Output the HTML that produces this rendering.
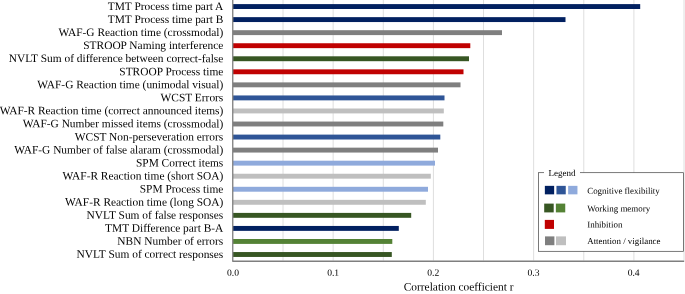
<!DOCTYPE html>
<html><head><meta charset="utf-8"><title>Correlation chart</title>
<style>
html,body{margin:0;padding:0;background:#fff;}
svg{display:block;font-family:"Liberation Serif",serif;text-rendering:geometricPrecision;}
text{fill:#000;}
</style></head><body>
<svg width="685" height="294" viewBox="0 0 685 294">
<rect width="685" height="294" fill="#ffffff"/>

<g style="will-change:opacity" opacity="0.999">
<line x1="283.02" y1="0" x2="283.02" y2="260.5" stroke="#DEDEDE" stroke-width="1"/>
<line x1="333.15" y1="0" x2="333.15" y2="260.5" stroke="#DEDEDE" stroke-width="1"/>
<line x1="383.27" y1="0" x2="383.27" y2="260.5" stroke="#DEDEDE" stroke-width="1"/>
<line x1="433.40" y1="0" x2="433.40" y2="260.5" stroke="#DEDEDE" stroke-width="1"/>
<line x1="483.52" y1="0" x2="483.52" y2="260.5" stroke="#DEDEDE" stroke-width="1"/>
<line x1="533.65" y1="0" x2="533.65" y2="260.5" stroke="#DEDEDE" stroke-width="1"/>
<line x1="583.77" y1="0" x2="583.77" y2="260.5" stroke="#DEDEDE" stroke-width="1"/>
<line x1="633.90" y1="0" x2="633.90" y2="260.5" stroke="#DEDEDE" stroke-width="1"/>
<line x1="684.02" y1="0" x2="684.02" y2="260.5" stroke="#DEDEDE" stroke-width="1"/>
<rect x="233.0" y="4.10" width="407.2" height="4.9" fill="#002060"/>
<rect x="233.0" y="17.15" width="332.5" height="4.9" fill="#002060"/>
<rect x="233.0" y="30.20" width="269.0" height="4.9" fill="#7F7F7F"/>
<rect x="233.0" y="43.25" width="237.3" height="4.9" fill="#C00000"/>
<rect x="233.0" y="56.30" width="236.0" height="4.9" fill="#375623"/>
<rect x="233.0" y="69.35" width="230.5" height="4.9" fill="#C00000"/>
<rect x="233.0" y="82.40" width="227.5" height="4.9" fill="#7F7F7F"/>
<rect x="233.0" y="95.45" width="211.5" height="4.9" fill="#2F5597"/>
<rect x="233.0" y="108.50" width="210.8" height="4.9" fill="#BFBFBF"/>
<rect x="233.0" y="121.55" width="210.3" height="4.9" fill="#7F7F7F"/>
<rect x="233.0" y="134.60" width="207.3" height="4.9" fill="#2F5597"/>
<rect x="233.0" y="147.65" width="205.0" height="4.9" fill="#7F7F7F"/>
<rect x="233.0" y="160.70" width="202.0" height="4.9" fill="#8FAADC"/>
<rect x="233.0" y="173.75" width="197.8" height="4.9" fill="#BFBFBF"/>
<rect x="233.0" y="186.80" width="195.0" height="4.9" fill="#8FAADC"/>
<rect x="233.0" y="199.85" width="192.8" height="4.9" fill="#BFBFBF"/>
<rect x="233.0" y="212.90" width="178.2" height="4.9" fill="#375623"/>
<rect x="233.0" y="225.95" width="165.8" height="4.9" fill="#002060"/>
<rect x="233.0" y="239.00" width="159.3" height="4.9" fill="#548235"/>
<rect x="233.0" y="252.05" width="158.8" height="4.9" fill="#375623"/>
<polyline points="232.75,0 232.75,261.25 684.2,261.25" fill="none" stroke="#7F7F7F" stroke-width="1.32" stroke-linejoin="round"/>
<text transform="matrix(1 0.0005 0 1 223.30 9.95)" font-size="11.4" text-anchor="end">TMT Process time part A</text>
<text transform="matrix(1 0.0005 0 1 223.30 23.00)" font-size="11.4" text-anchor="end">TMT Process time part B</text>
<text transform="matrix(1 0.0005 0 1 223.30 36.05)" font-size="11.4" text-anchor="end">WAF-G Reaction time (crossmodal)</text>
<text transform="matrix(1 0.0005 0 1 223.30 49.10)" font-size="11.4" text-anchor="end">STROOP Naming interference</text>
<text transform="matrix(1 0.0005 0 1 223.30 62.15)" font-size="11.4" text-anchor="end">NVLT Sum of difference between correct-false</text>
<text transform="matrix(1 0.0005 0 1 223.30 75.20)" font-size="11.4" text-anchor="end">STROOP Process time</text>
<text transform="matrix(1 0.0005 0 1 223.30 88.25)" font-size="11.4" text-anchor="end">WAF-G Reaction time (unimodal visual)</text>
<text transform="matrix(1 0.0005 0 1 223.30 101.30)" font-size="11.4" text-anchor="end">WCST Errors</text>
<text transform="matrix(1 0.0005 0 1 223.30 114.35)" font-size="11.4" text-anchor="end">WAF-R Reaction time (correct announced items)</text>
<text transform="matrix(1 0.0005 0 1 223.30 127.40)" font-size="11.4" text-anchor="end">WAF-G Number missed items (crossmodal)</text>
<text transform="matrix(1 0.0005 0 1 223.30 140.45)" font-size="11.4" text-anchor="end">WCST Non-perseveration errors</text>
<text transform="matrix(1 0.0005 0 1 223.30 153.50)" font-size="11.4" text-anchor="end">WAF-G Number of false alaram (crossmodal)</text>
<text transform="matrix(1 0.0005 0 1 223.30 166.55)" font-size="11.4" text-anchor="end">SPM Correct items</text>
<text transform="matrix(1 0.0005 0 1 223.30 179.60)" font-size="11.4" text-anchor="end">WAF-R Reaction time (short SOA)</text>
<text transform="matrix(1 0.0005 0 1 223.30 192.65)" font-size="11.4" text-anchor="end">SPM Process time</text>
<text transform="matrix(1 0.0005 0 1 223.30 205.70)" font-size="11.4" text-anchor="end">WAF-R Reaction time (long SOA)</text>
<text transform="matrix(1 0.0005 0 1 223.30 218.75)" font-size="11.4" text-anchor="end">NVLT Sum of false responses</text>
<text transform="matrix(1 0.0005 0 1 223.30 231.80)" font-size="11.4" text-anchor="end">TMT Difference part B-A</text>
<text transform="matrix(1 0.0005 0 1 223.30 244.85)" font-size="11.4" text-anchor="end">NBN Number of errors</text>
<text transform="matrix(1 0.0005 0 1 223.30 257.90)" font-size="11.4" text-anchor="end">NVLT Sum of correct responses</text>
<text transform="matrix(1 0.0005 0 1 232.95 275.65)" font-size="9.6" text-anchor="middle">0.0</text>
<text transform="matrix(1 0.0005 0 1 333.13 275.65)" font-size="9.6" text-anchor="middle">0.1</text>
<text transform="matrix(1 0.0005 0 1 433.31 275.65)" font-size="9.6" text-anchor="middle">0.2</text>
<text transform="matrix(1 0.0005 0 1 533.49 275.65)" font-size="9.6" text-anchor="middle">0.3</text>
<text transform="matrix(1 0.0005 0 1 633.67 275.65)" font-size="9.6" text-anchor="middle">0.4</text>
<text transform="matrix(1 0.0005 0 1 458.65 290.50)" font-size="11.4" text-anchor="middle">Correlation coefficient r</text>
<rect x="538.5" y="172.7" width="145.1" height="78.6" fill="#fff" stroke="#404040" stroke-width="0.7"/>
<rect x="544" y="168" width="36" height="10" fill="#fff"/>
<text transform="matrix(1 0.0005 0 1 548.50 176.00)" font-size="9.03">Legend</text>
<rect x="544.85" y="185.85" width="9.3" height="8.5" fill="#002060"/>
<rect x="556.45" y="185.85" width="9.3" height="8.5" fill="#2F5597"/>
<rect x="568.15" y="185.85" width="9.3" height="8.5" fill="#8FAADC"/>
<rect x="544.2" y="203.6" width="9.5" height="8.8" fill="#375623"/>
<rect x="555.85" y="203.6" width="9.4" height="8.8" fill="#548235"/>
<rect x="544.8" y="219.9" width="9.2" height="9" fill="#C00000"/>
<rect x="545.0" y="236.4" width="9.4" height="8.8" fill="#7F7F7F"/>
<rect x="556.0" y="236.4" width="10" height="8.8" fill="#BFBFBF"/>
<text transform="matrix(1 0.0005 0 1 587.20 193.75)" font-size="8.93">Cognitive flexibility</text>
<text transform="matrix(1 0.0005 0 1 587.20 211.40)" font-size="8.93">Working memory</text>
<text transform="matrix(1 0.0005 0 1 587.20 227.60)" font-size="8.93">Inhibition</text>
<text transform="matrix(1 0.0005 0 1 587.20 244.00)" font-size="8.93">Attention / vigilance</text>
</g>
</svg></body></html>
